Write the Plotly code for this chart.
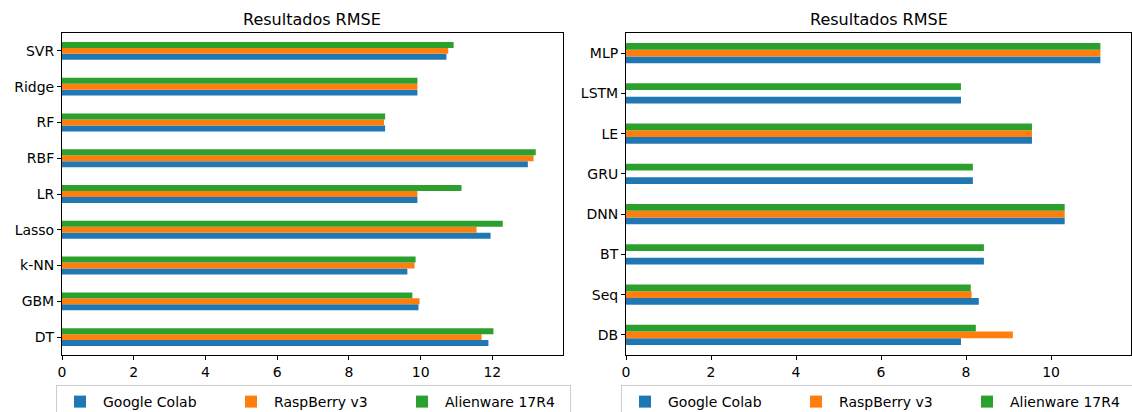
import plotly.graph_objects as go

# Classic ML models (left panel), listed bottom to top
ml_models = ["DT", "GBM", "k-NN", "Lasso", "LR", "RBF", "RF", "Ridge", "SVR"]
ml_colab = [11.89, 9.94, 9.63, 11.95, 9.91, 12.99, 9.01, 9.91, 10.72]
ml_rasp = [11.70, 9.97, 9.83, 11.56, 9.91, 13.15, 8.98, 9.91, 10.77]
ml_alien = [12.03, 9.77, 9.86, 12.29, 11.14, 13.21, 9.01, 9.91, 10.92]

# Deep learning models (right panel), listed bottom to top
dl_models = ["DB", "Seq", "BT", "DNN", "GRU", "LE", "LSTM", "MLP"]
dl_colab = [7.88, 8.30, 8.42, 10.32, 8.16, 9.55, 7.88, 11.16]
dl_rasp = [9.10, 8.13, None, 10.32, None, 9.55, None, 11.16]
dl_alien = [8.23, 8.11, 8.42, 10.32, 8.16, 9.55, 7.88, 11.16]

series_names = ["Google Colab", "RaspBerry v3", "Alienware 17R4"]
colors = ["#1f77b4", "#ff7f0e", "#2ca02c"]

W, H = 1132, 412
FONT = "DejaVu Sans"

fig = go.Figure()

panels = [
    (ml_models, [ml_colab, ml_rasp, ml_alien], "x", "y", "legend"),
    (dl_models, [dl_colab, dl_rasp, dl_alien], "x2", "y2", "legend2"),
]
for cats, vals, xa, ya, lg in panels:
    for name, v, c in zip(series_names, vals, colors):
        fig.add_trace(go.Bar(
            y=cats, x=v, name=name, orientation="h",
            marker=dict(color=c, line=dict(width=0)),
            xaxis=xa, yaxis=ya, legend=lg,
        ))

def px_x(p):
    return p / W

def px_y(p):
    return 1 - p / H

axis_common = dict(
    showline=True, linecolor="black", linewidth=1, mirror=True,
    ticks="outside", ticklen=4, tickcolor="black", tickwidth=1,
    showgrid=False, zeroline=False,
    tickfont=dict(family=FONT, size=14, color="black"),
)

top, bottom = 33, 355
left_dom = [px_x(62), px_x(563)]
right_dom = [px_x(626), px_x(1131)]

legend_common = dict(
    orientation="h", xanchor="left", yanchor="top",
    bordercolor="#cccccc", borderwidth=1, bgcolor="white",
    font=dict(family=FONT, size=14, color="black"),
    itemwidth=36, entrywidth=120, entrywidthmode="pixels", traceorder="normal",
)

fig.update_layout(
    width=W, height=H,
    margin=dict(l=0, r=0, t=0, b=0, autoexpand=False),
    paper_bgcolor="white", plot_bgcolor="white",
    barmode="group", bargap=0.5, bargroupgap=0,
    font=dict(family=FONT, size=14, color="black"),
    xaxis=dict(domain=left_dom, range=[0, 13.97], tickvals=[0, 2, 4, 6, 8, 10, 12],
               anchor="y", **axis_common),
    yaxis=dict(domain=[px_y(bottom), px_y(top)], type="category",
               categoryorder="array", categoryarray=ml_models,
               range=[-0.5, len(ml_models) - 0.5], anchor="x", **axis_common),
    xaxis2=dict(domain=right_dom, range=[0, 11.88], tickvals=[0, 2, 4, 6, 8, 10],
                anchor="y2", **axis_common),
    yaxis2=dict(domain=[px_y(bottom), px_y(top)], type="category",
                categoryorder="array", categoryarray=dl_models,
                range=[-0.5, len(dl_models) - 0.5], anchor="x2", **axis_common),
    legend=dict(x=px_x(56), y=px_y(385), **legend_common),
    legend2=dict(x=px_x(621), y=px_y(385), **legend_common),
    showlegend=True,
)

for dom in (left_dom, right_dom):
    fig.add_annotation(
        text="Resultados RMSE", xref="paper", yref="paper",
        x=(dom[0] + dom[1]) / 2, y=px_y(20), xanchor="center", yanchor="middle",
        showarrow=False, font=dict(family=FONT, size=16, color="black"),
    )

fig.write_html("out.html")
